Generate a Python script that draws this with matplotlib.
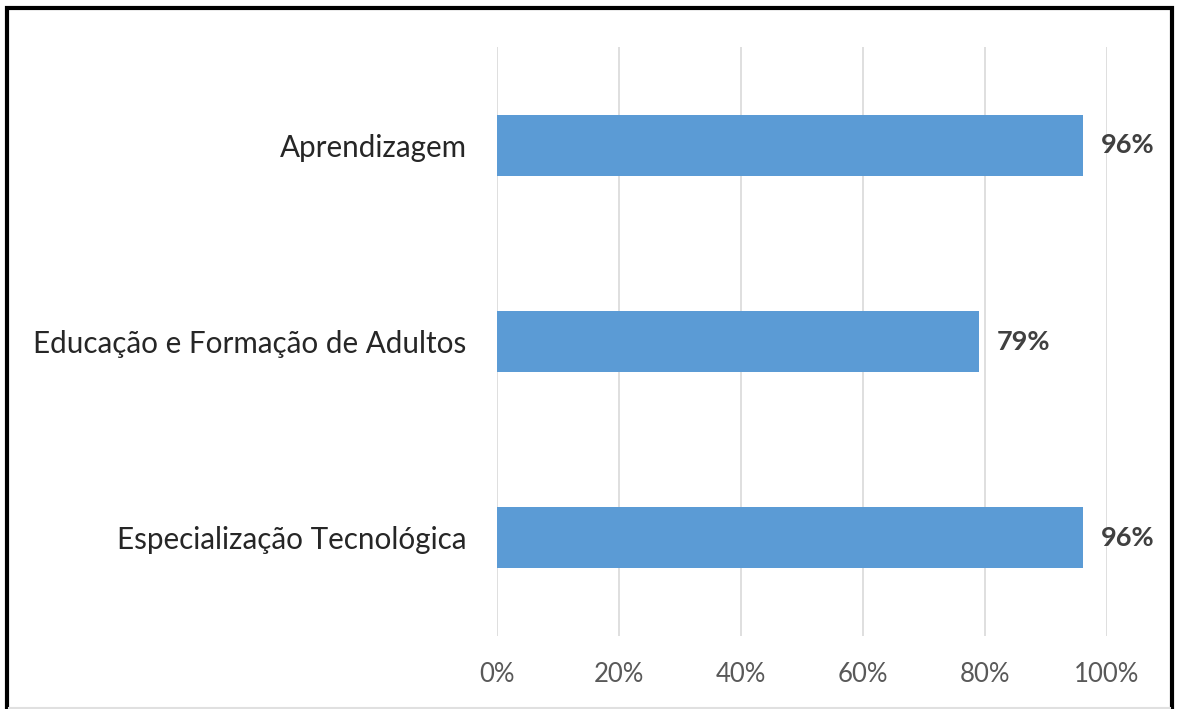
import matplotlib.pyplot as plt
from matplotlib.patches import Rectangle

categorias = ["Aprendizagem", "Educação e Formação de Adultos", "Especialização Tecnológica"]
valores = [0.96, 0.79, 0.96]
ticks = [0, 0.2, 0.4, 0.6, 0.8, 1.0]
tick_labels = ["0%", "20%", "40%", "60%", "80%", "100%"]

W, H = 1179, 709
fig = plt.figure(figsize=(W / 100, H / 100), dpi=100)
plt.rcParams['font.family'] = ['Lato', 'DejaVu Sans']

# área do gráfico em pixels
x0, x1 = 497, 1107
y_top, y_bot = 47, 636
ax = fig.add_axes([x0 / W, 1 - y_bot / H, (x1 - x0) / W, (y_bot - y_top) / H])

pos = range(len(categorias))
ax.barh(pos, valores, height=0.31, color="#5B9BD5")
ax.set_xlim(0, 1)
ax.set_ylim(2.5, -0.5)
ax.set_xticks(ticks)
ax.set_xticklabels(tick_labels, color="#595959", fontsize=18.5)
ax.set_yticks(list(pos))
ax.set_yticklabels(categorias, color="#262626", fontsize=21.3)
ax.tick_params(axis="both", length=0)
ax.tick_params(axis="x", pad=19)
ax.tick_params(axis="y", pad=22)
ax.grid(axis="x", color="#D9D9D9", linewidth=1.2)
ax.set_axisbelow(True)
for s in ax.spines.values():
    s.set_visible(False)

for i, v in enumerate(valores):
    ax.text(v + 0.03, i, f"{round(v * 100)}%", va="center", ha="left",
            fontsize=19.5, fontweight="bold", color="#404040")

# moldura
fig.patches.append(Rectangle((7 / W, -0.01), (1172 - 7) / W, 1 - 8 / H + 0.01,
                             transform=fig.transFigure, fill=False,
                             edgecolor="black", linewidth=3))
fig.add_artist(plt.Line2D([9 / W, 1170 / W], [1.5 / H, 1.5 / H],
                          color="#E0E0E0", linewidth=1.5))

fig.savefig("out.png", dpi=100)
